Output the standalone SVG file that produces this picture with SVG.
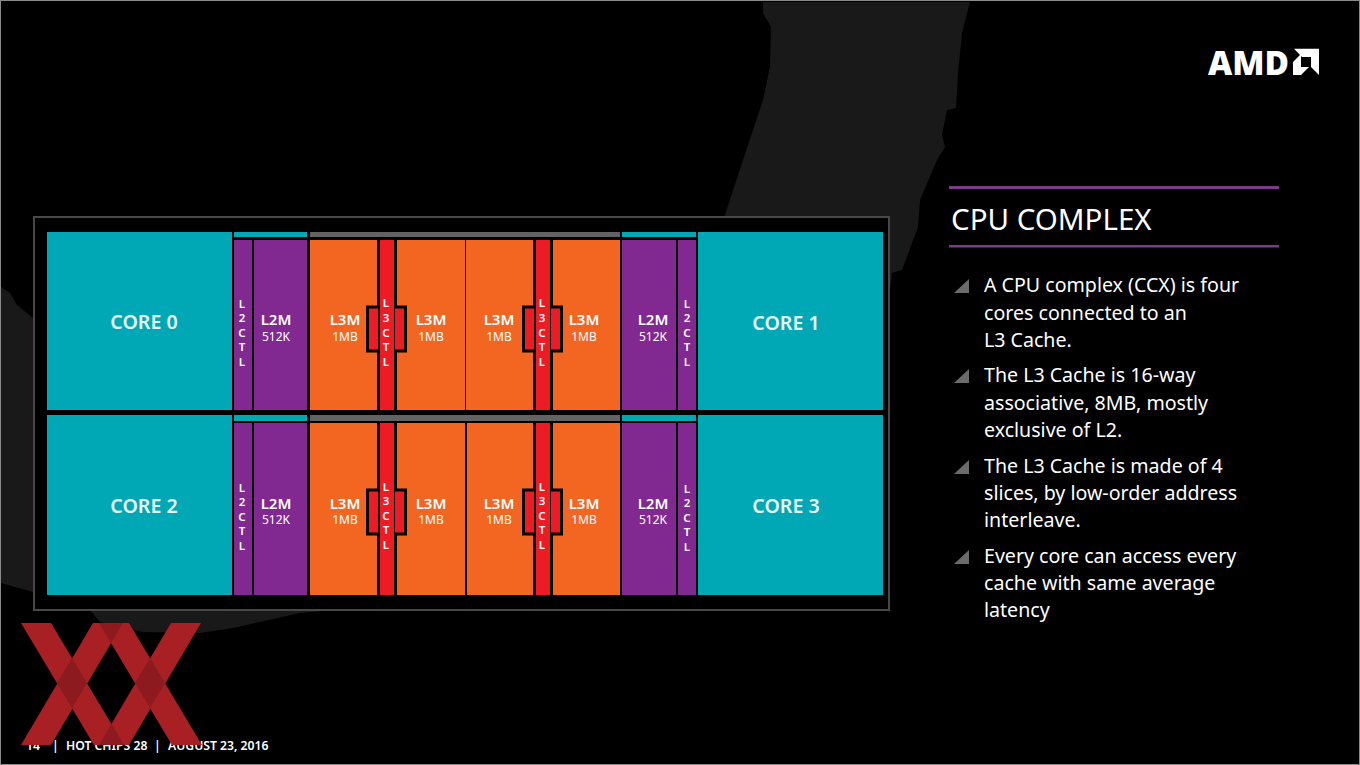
<svg xmlns="http://www.w3.org/2000/svg" width="1360" height="765" viewBox="0 0 1360 765">
<style>
text{font-family:"Noto Sans","Open Sans","Liberation Sans",sans-serif;fill:#fff}
.core{fill:#00a7b5}.pur{fill:#812990}.ora{fill:#f36621}.red{fill:#ed1c24}.gry{fill:#636363}
.tab{fill:#ed1c24;stroke:#000;stroke-width:3}
.cl{font-size:19.6px;font-weight:600;text-anchor:middle;fill:#e6f7f8}
.m{font-size:15px;font-weight:600;text-anchor:middle}
.s{font-size:12px;text-anchor:middle}
.v{font-size:11.500px;font-weight:600;text-anchor:middle}
.b{font-size:19.6px}
.f{font-size:12.2px;font-weight:600}
.tri{fill:#6b6b6b}
.xa{fill:#a81f24}.xb{fill:#8c1a1e}
</style>
<rect width="1360" height="765" fill="#000"/>
<path id="bg-map-top" d="M763 2H970L967 13L962 33L958 73L956 108L947 110L942 135L945 147L937 160L920 200L918 227L902 270L892 273L889 300H726L725 215L743 160L763 100L770 67L771 27L763 13Z" fill="#191919"/>
<path id="bg-map-low" d="M1 287L10 293L17 305L33 318V583L33 592L1 583ZM90 610L100 622L143 632L200 633L233 628L300 613L345 609H90Z" fill="#191919"/>
<rect x="0.5" y="0.5" width="1359" height="764" fill="none" stroke="#8a8a8a"/>
<g id="frame"><rect x="34" y="217" width="855" height="393" fill="#000" stroke="#484848" stroke-width="2"/></g>
<g id="connectors"/>
<g id="core0"><rect class="core" x="47" y="232" width="185" height="178"/><text class="cl" x="144" y="329">CORE 0</text></g>
<g id="core1"><rect class="core" x="698" y="232" width="185" height="178"/><text class="cl" x="786" y="330">CORE 1</text></g>
<g id="core2"><rect class="core" x="47" y="415" width="185" height="180"/><text class="cl" x="144" y="513">CORE 2</text></g>
<g id="core3"><rect class="core" x="698" y="415" width="185" height="180"/><text class="cl" x="786" y="513">CORE 3</text></g>
<g id="strips">
<rect class="core" x="234" y="232" width="73" height="5"/><rect class="gry" x="310" y="232" width="310" height="5"/><rect class="core" x="622" y="232" width="74" height="5"/>
<rect class="core" x="234" y="415" width="73" height="6"/><rect class="gry" x="310" y="415" width="310" height="6"/><rect class="core" x="622" y="415" width="74" height="6"/>
</g>
<g id="l2ctl-0"><rect class="pur" x="234" y="240" width="18" height="170"/><text class="v" x="242" y="308">L</text><text class="v" x="242" y="322">2</text><text class="v" x="242" y="337">C</text><text class="v" x="242" y="351">T</text><text class="v" x="242" y="366">L</text></g>
<g id="l2m-0"><rect class="pur" x="254" y="240" width="53" height="170"/><text class="m" x="276" y="325">L2M</text><text class="s" x="276" y="341">512K</text></g>
<g id="l3m-0"><rect class="ora" x="310" y="240" width="67" height="170"/><text class="m" x="345" y="325">L3M</text><text class="s" x="345" y="341">1MB</text></g>
<g id="l3m-1"><rect class="ora" x="397" y="240" width="68" height="170"/><text class="m" x="431" y="325">L3M</text><text class="s" x="431" y="341">1MB</text></g>
<g id="l3ctl-0"><rect class="tab" x="367.500" y="307" width="12" height="44"/><rect class="tab" x="393.500" y="307" width="12" height="44"/><rect class="red" x="380" y="240" width="14" height="170"/><text class="v" x="386" y="307">L</text><text class="v" x="386" y="322">3</text><text class="v" x="386" y="337">C</text><text class="v" x="386" y="351">T</text><text class="v" x="386" y="366">L</text></g>
<g id="l3m-2"><rect class="ora" x="466" y="240" width="67" height="170"/><text class="m" x="499" y="325">L3M</text><text class="s" x="499" y="341">1MB</text></g>
<g id="l3m-3"><rect class="ora" x="553" y="240" width="67" height="170"/><text class="m" x="584" y="325">L3M</text><text class="s" x="584" y="341">1MB</text></g>
<g id="l3ctl-1"><rect class="tab" x="523.500" y="307" width="12" height="44"/><rect class="tab" x="549.500" y="307" width="12" height="44"/><rect class="red" x="536" y="240" width="14" height="170"/><text class="v" x="542" y="307">L</text><text class="v" x="542" y="322">3</text><text class="v" x="542" y="337">C</text><text class="v" x="542" y="351">T</text><text class="v" x="542" y="366">L</text></g>
<g id="l2m-1"><rect class="pur" x="622" y="240" width="54" height="170"/><text class="m" x="653" y="325">L2M</text><text class="s" x="653" y="341">512K</text></g>
<g id="l2ctl-1"><rect class="pur" x="678" y="240" width="18" height="170"/><text class="v" x="687" y="308">L</text><text class="v" x="687" y="322">2</text><text class="v" x="687" y="337">C</text><text class="v" x="687" y="351">T</text><text class="v" x="687" y="366">L</text></g>
<g id="l2ctl-2"><rect class="pur" x="234" y="423" width="18" height="172"/><text class="v" x="242" y="492">L</text><text class="v" x="242" y="506">2</text><text class="v" x="242" y="521">C</text><text class="v" x="242" y="535">T</text><text class="v" x="242" y="550">L</text></g>
<g id="l2m-2"><rect class="pur" x="254" y="423" width="53" height="172"/><text class="m" x="276" y="509">L2M</text><text class="s" x="276" y="524">512K</text></g>
<g id="l3m-4"><rect class="ora" x="310" y="423" width="67" height="172"/><text class="m" x="345" y="509">L3M</text><text class="s" x="345" y="524">1MB</text></g>
<g id="l3m-5"><rect class="ora" x="397" y="423" width="68" height="172"/><text class="m" x="431" y="509">L3M</text><text class="s" x="431" y="524">1MB</text></g>
<g id="l3ctl-2"><rect class="tab" x="367.500" y="490" width="12" height="44"/><rect class="tab" x="393.500" y="490" width="12" height="44"/><rect class="red" x="380" y="423" width="14" height="172"/><text class="v" x="386" y="491">L</text><text class="v" x="386" y="505">3</text><text class="v" x="386" y="520">C</text><text class="v" x="386" y="534">T</text><text class="v" x="386" y="549">L</text></g>
<g id="l3m-6"><rect class="ora" x="467" y="423" width="66" height="172"/><text class="m" x="499" y="509">L3M</text><text class="s" x="499" y="524">1MB</text></g>
<g id="l3m-7"><rect class="ora" x="553" y="423" width="67" height="172"/><text class="m" x="584" y="509">L3M</text><text class="s" x="584" y="524">1MB</text></g>
<g id="l3ctl-3"><rect class="tab" x="523.500" y="490" width="12" height="44"/><rect class="tab" x="549.500" y="490" width="12" height="44"/><rect class="red" x="536" y="423" width="14" height="172"/><text class="v" x="542" y="491">L</text><text class="v" x="542" y="505">3</text><text class="v" x="542" y="520">C</text><text class="v" x="542" y="534">T</text><text class="v" x="542" y="549">L</text></g>
<g id="l2m-3"><rect class="pur" x="622" y="423" width="54" height="172"/><text class="m" x="653" y="509">L2M</text><text class="s" x="653" y="524">512K</text></g>
<g id="l2ctl-3"><rect class="pur" x="678" y="423" width="18" height="172"/><text class="v" x="687" y="493">L</text><text class="v" x="687" y="507">2</text><text class="v" x="687" y="522">C</text><text class="v" x="687" y="536">T</text><text class="v" x="687" y="551">L</text></g>
<g id="logo">
<text x="1208" y="74.500" font-size="33.500" font-weight="800" style="font-family:'Open Sans','Noto Sans',sans-serif" textLength="81" lengthAdjust="spacingAndGlyphs">AMD</text>
<path d="M1294 48.700H1319V75L1311 67V57H1302ZM1293 75V62L1301 54V67H1309L1301 75Z" fill="#fff"/>
</g>
<g id="footer"><text class="f" x="26" y="750">14</text><text class="f" x="52" y="750">|</text><text class="f" x="66" y="750">HOT CHIPS 28</text><text class="f" x="154" y="750">|</text><text class="f" x="168" y="750">AUGUST 23, 2016</text></g>
<g id="watermark">
<path class="xa" d="M21 623H51L124 745H94Z"/>
<path class="xa" d="M93 623H123L51 745H21Z"/>
<path class="xa" d="M99 623H129L202 745H172Z"/>
<path class="xa" d="M171 623H201L129 745H99Z"/>
<path class="xb" d="M57 683L72 658L87 683L72 708ZM135 683L150 658L165 683L150 708ZM99 623H123L111 643ZM99 745H124L111.500 724Z"/>
</g>
<g id="panel">
<rect x="949" y="186" width="330" height="3" fill="#7b3a8c"/>
<rect x="949" y="245" width="330" height="2.500" fill="#7b3a8c"/>
<text x="951" y="230" font-size="29.500">CPU COMPLEX</text>
<path class="tri" d="M969 279V293H954Z"/><path class="tri" d="M969 369V383H954Z"/><path class="tri" d="M969 460V474H954Z"/><path class="tri" d="M969 550V564H954Z"/>
<text class="b" x="984" y="292">A CPU complex (CCX) is four</text>
<text class="b" x="984" y="320">cores connected to an</text>
<text class="b" x="984" y="347">L3 Cache.</text>
<text class="b" x="984" y="382">The L3 Cache is 16-way</text>
<text class="b" x="984" y="410">associative, 8MB, mostly</text>
<text class="b" x="984" y="437">exclusive of L2.</text>
<text class="b" x="984" y="473">The L3 Cache is made of 4</text>
<text class="b" x="984" y="500">slices, by low-order address</text>
<text class="b" x="984" y="527">interleave.</text>
<text class="b" x="984" y="563">Every core can access every</text>
<text class="b" x="984" y="590">cache with same average</text>
<text class="b" x="984" y="617">latency</text>
</g>
</svg>
